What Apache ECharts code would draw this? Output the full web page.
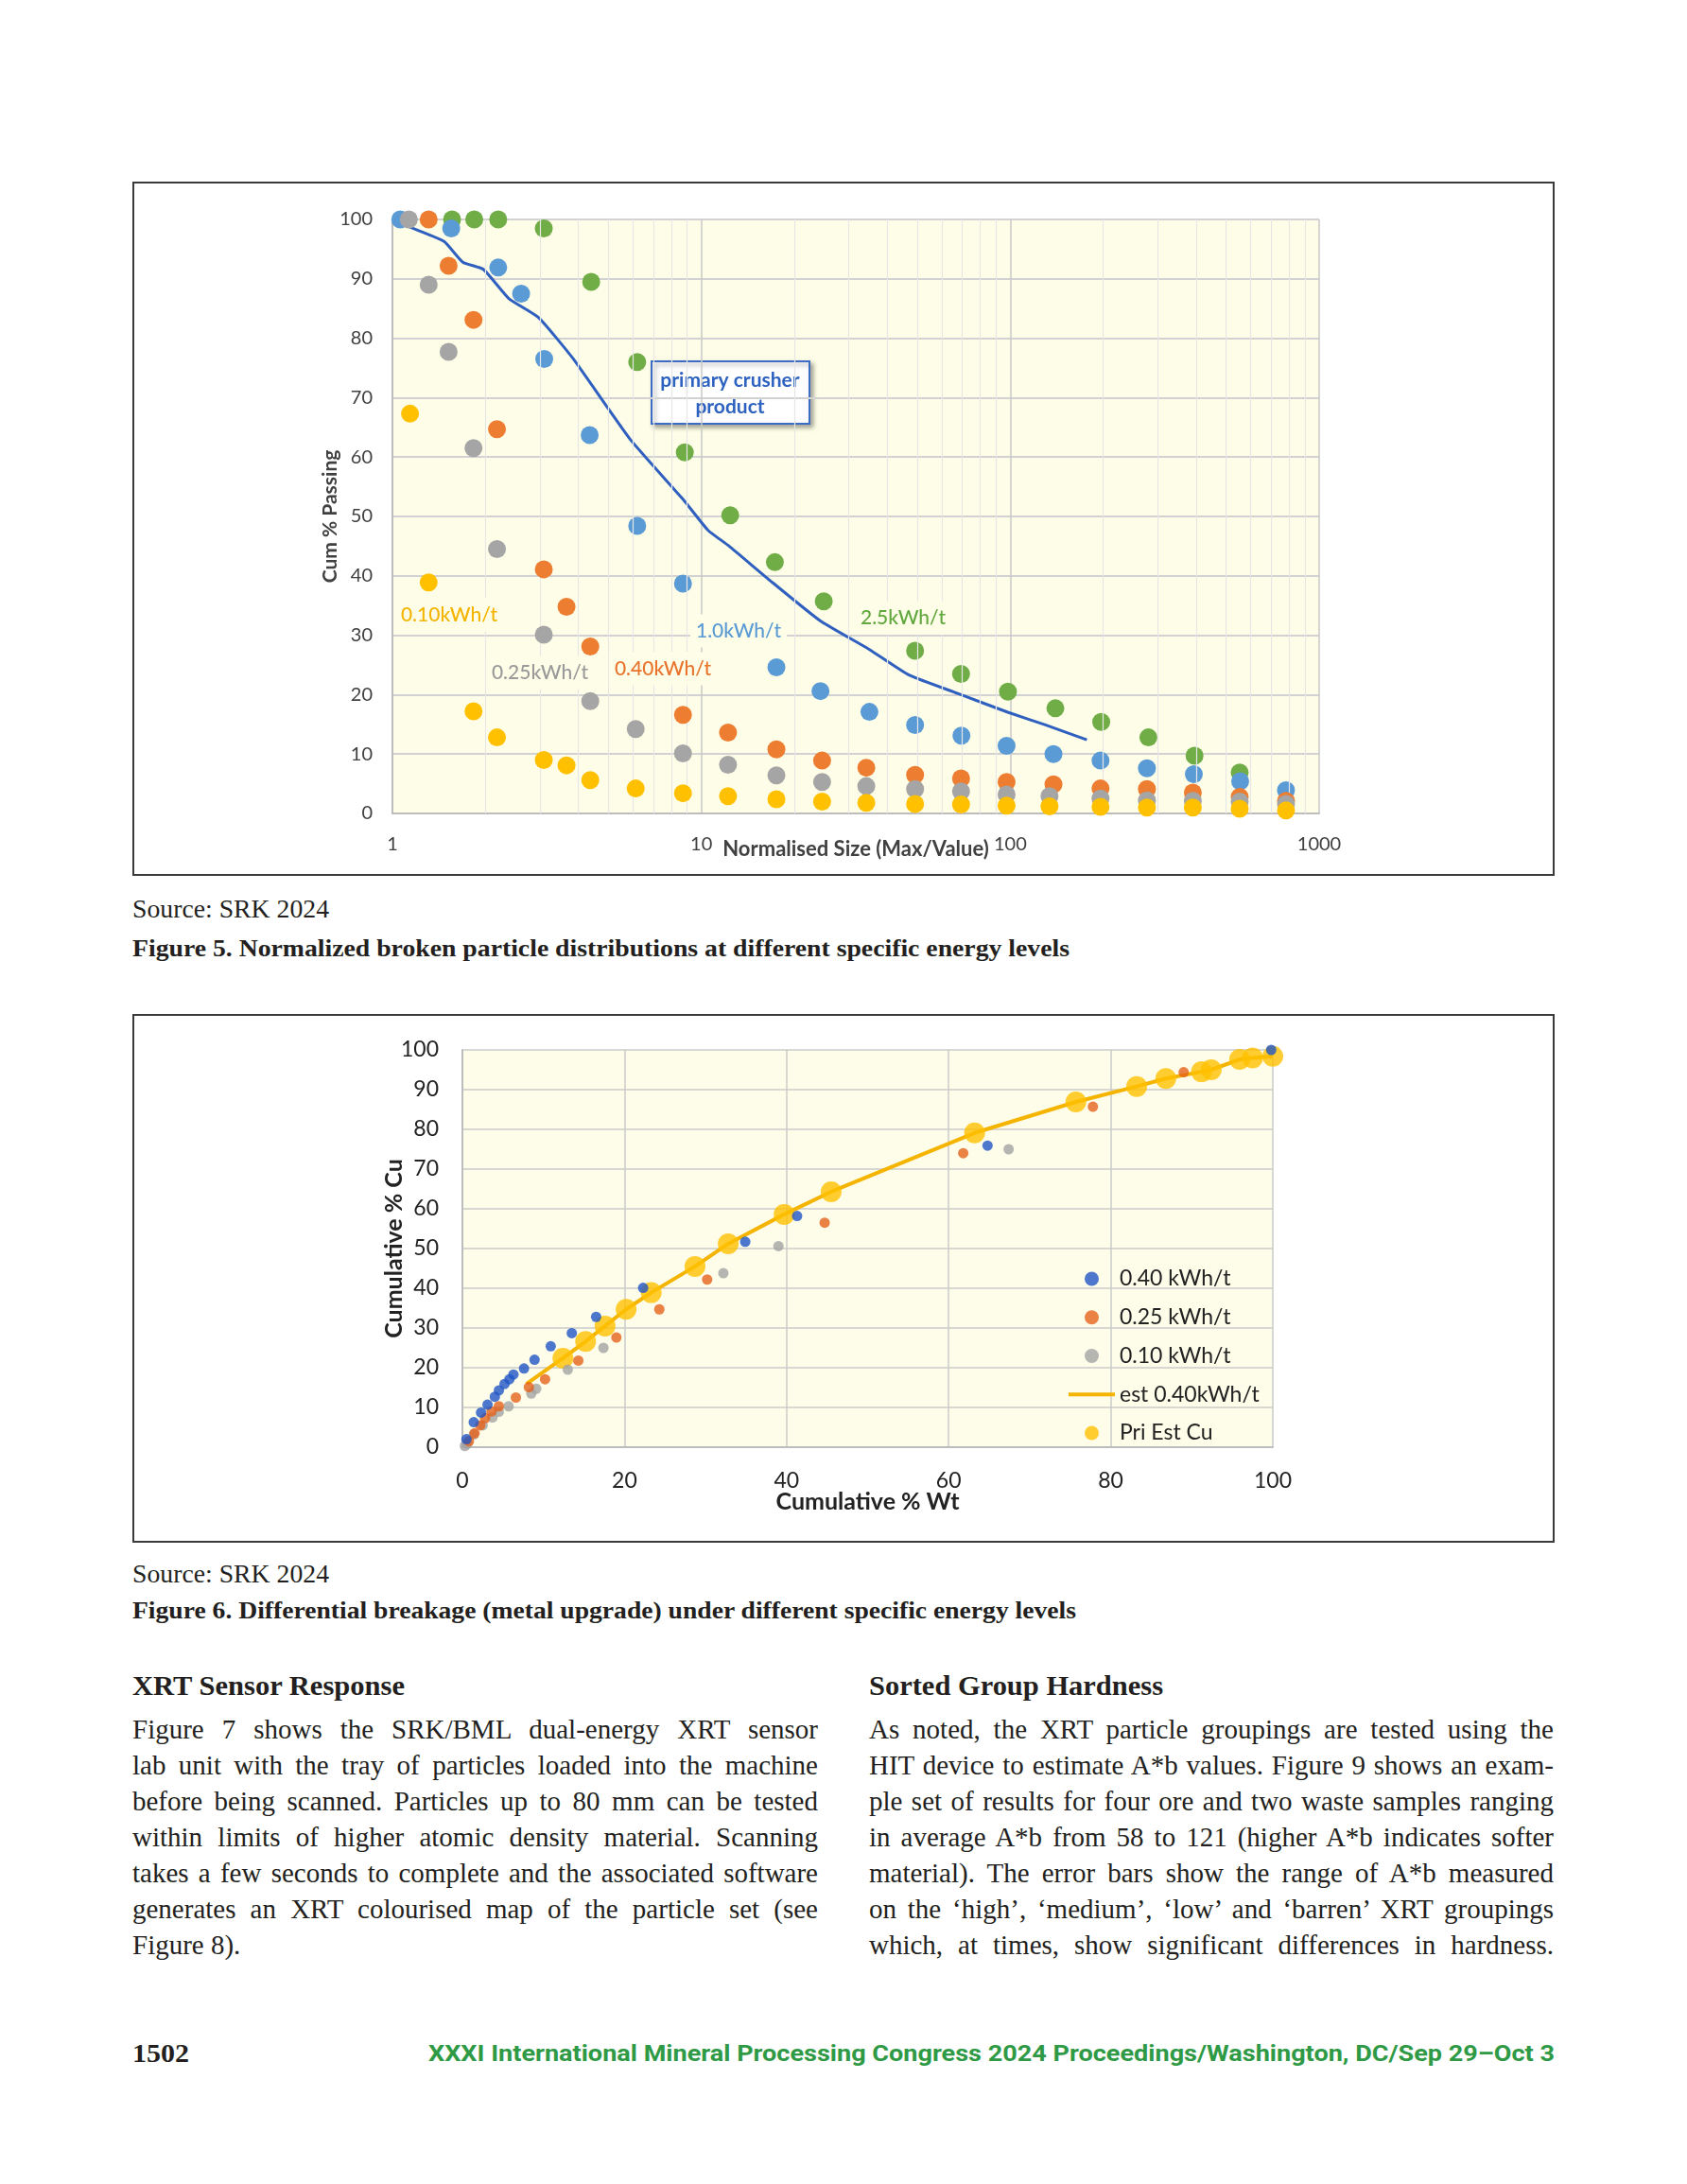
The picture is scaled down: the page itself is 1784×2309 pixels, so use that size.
<!DOCTYPE html>
<html><head><meta charset="utf-8">
<script src="https://cdn.jsdelivr.net/npm/echarts@6/dist/echarts.min.js"></script>
<style>
html,body{margin:0;padding:0;background:#fff;}
body{width:1784px;height:2309px;position:relative;overflow:hidden;}
.box{position:absolute;border:2px solid #3a3a3a;box-sizing:border-box;}
.chart{position:absolute;}
.t{position:absolute;white-space:nowrap;color:#231f20;transform-origin:0 50%;}
</style></head><body>
<div class="box" style="left:140px;top:192px;width:1504px;height:734px"></div>
<div id="c1" class="chart" style="left:140px;top:192px;width:1504px;height:734px"></div>
<div class="box" style="left:140px;top:1072px;width:1504px;height:559px"></div>
<div id="c2" class="chart" style="left:140px;top:1072px;width:1504px;height:559px"></div>
<script>
// ---------- Figure 5 data ----------
const xTicks1 = [1, 10, 100, 1000];
const minorTicks1 = [2,3,4,5,6,7,8,9,20,30,40,50,60,70,80,90,200,300,400,500,600,700,800,900];
const size010 = [1.14,1.31,1.83,2.18,3.09,3.66,4.37,6.13,8.72,12.2,17.5,24.6,34.2,49.2,69.3,97.3,134,196,277,390,553,781];
const pass010 = [67.3,38.9,17.2,12.8,9.0,8.1,5.6,4.2,3.4,2.9,2.4,2.0,1.8,1.6,1.5,1.3,1.2,1.1,1.0,1.0,0.8,0.5];
const size025 = [1.13,1.31,1.52,1.83,2.18,3.09,4.37,6.13,8.72,12.2,17.5,24.6,34.2,49.2,69.3,97.3,134,196,277,390,553,781];
const pass025 = [100,89.0,77.7,61.5,44.5,30.1,18.9,14.2,10.1,8.2,6.4,5.3,4.6,4.1,3.7,3.2,2.9,2.5,2.2,2.1,2.0,1.6];
const size040 = [1.31,1.52,1.83,2.18,3.09,3.66,4.37,8.72,12.2,17.5,24.6,34.2,49.2,69.3,97.3,138,196,277,390,553,781];
const pass040 = [100,92.2,83.1,64.7,41.1,34.8,28.1,16.6,13.6,10.8,8.9,7.7,6.5,5.9,5.3,4.9,4.2,4.1,3.5,2.8,2.1];
const size10 = [1.06,1.55,2.2,2.61,3.1,4.35,6.2,8.72,17.5,24.3,35.0,49.2,69.5,97.3,138,196,277,393,555,781];
const pass10 = [100,98.5,91.9,87.5,76.5,63.7,48.4,38.7,24.6,20.6,17.1,14.9,13.1,11.4,10.0,8.9,7.6,6.6,5.4,3.9];
const size25 = [1.56,1.84,2.2,3.09,4.4,6.2,8.84,12.4,17.3,24.9,49.2,69.3,98.3,140,197,280,395,553];
const pass25 = [100,100,100,98.5,89.5,76.0,60.8,50.2,42.3,35.7,27.4,23.5,20.5,17.7,15.4,12.8,9.7,6.9];
const sizePrimary = [1.0,1.08,1.18,1.47,1.69,1.97,2.38,2.97,3.84,5.88,8.72,10.5,12.3,16.7,24.3,35,47,67.6,98.7,130,177];
const passPrimary = [100,99.2,98.4,96.3,92.8,91.6,86.7,83.5,76.6,63.0,52.9,47.7,45.0,39.2,32.4,27.6,23.3,20.2,17.0,14.9,12.4];

// ---------- Figure 6 data ----------
const wt040 = [0.5,1.4,2.3,3.1,4.0,4.5,5.2,5.8,6.3,7.6,8.9,10.9,13.5,16.5,22.3,34.9,41.3,64.8,99.8];
const cu040 = [2.0,6.3,8.7,10.7,12.7,14.3,15.9,17.1,18.3,19.8,22.0,25.4,28.7,32.8,40.1,51.7,58.2,75.9,100];
const wt025 = [0.8,1.5,2.2,2.8,3.6,4.5,6.6,8.2,10.2,14.3,19.0,24.3,30.2,44.7,61.8,77.8,89.0];
const cu025 = [1.5,3.5,5.5,7.3,9.0,10.3,12.5,15.1,17.1,21.8,27.6,34.7,42.2,56.5,74.0,85.7,94.4];
const wt010 = [0.3,0.6,1.4,2.5,3.7,4.5,5.7,8.5,9.1,13.0,17.4,32.2,39.0,67.4];
const cu010 = [0.3,0.8,3.2,5.5,7.5,8.9,10.3,13.5,14.7,19.5,25.0,43.8,50.6,75.0];
const wtPri = [12.4,15.2,17.6,20.2,23.3,28.7,32.8,39.7,45.5,63.2,75.7,83.2,86.8,91.2,92.4,95.9,97.5,100];
const cuPri = [22.4,26.6,30.5,34.7,38.9,45.5,51.2,58.6,64.3,79.1,86.9,90.8,92.8,94.5,95.0,97.6,98.0,98.4];
const wtEst = [7.9,12.4,15.2,17.6,20.2,23.3,28.7,32.8,39.7,45.5,63.2,75.7,83.2,86.8,91.2,92.4,95.9,97.5,100];
const cuEst = [15.9,22.4,26.6,30.5,34.7,38.9,45.5,51.2,58.6,64.3,79.1,86.9,90.8,92.8,94.5,95.0,97.6,98.0,98.4];
const legendNames2 = ['0.40 kWh/t','0.25 kWh/t','0.10 kWh/t','est 0.40kWh/t','Pri Est Cu'];

const zip = (a,b) => a.map((v,i)=>[v,b[i]]);
const SANS = 'Lato, "Open Sans", sans-serif';
const BG = '#fefee8';

// ---------- Chart 1 ----------
const c1 = echarts.init(document.getElementById('c1'));
function scat(name, xs, ys, color, z){
  return {name, type:'scatter', data:zip(xs,ys), symbol:'circle', symbolSize:19, z,
    itemStyle:{color, opacity:1}, emphasis:{disabled:true}};
}
function lbl(text, x, y, color){
  return {type:'text', x, y, z:50, style:{text, fill:color, font:'500 21px '+SANS,
    align:'center', verticalAlign:'middle', backgroundColor:BG, padding:[7,6]}};
}
c1.setOption({
  animation:false,
  grid:{left:275, right:249, top:40, bottom:66, show:true, backgroundColor:BG, borderWidth:0},
  xAxis:{type:'log', logBase:10, min:xTicks1[0], max:xTicks1[xTicks1.length-1],
    axisLine:{show:true, lineStyle:{color:'#bdbdbd', width:2}}, axisTick:{show:false},
    axisLabel:{fontSize:20, color:'#404040', margin:23, fontFamily:SANS, formatter:v=>String(Math.round(v))},
    splitLine:{show:true, lineStyle:{color:'#c9c9c9', width:1.5}},
    name:'Normalised Size (Max/Value)', nameLocation:'middle', nameGap:27, nameMoveOverlap:false,
    nameTextStyle:{fontSize:22, fontWeight:'bold', color:'#404040', fontFamily:SANS}},
  yAxis:{type:'value', min:0, max:100, interval:10,
    axisLine:{show:true, lineStyle:{color:'#bdbdbd', width:2}}, axisTick:{show:false},
    axisLabel:{fontSize:20, color:'#404040', margin:21, fontFamily:SANS},
    splitLine:{lineStyle:{color:'#d2d2d2', width:2}},
    name:'Cum % Passing', nameLocation:'middle', nameGap:55, nameMoveOverlap:false,
    nameTextStyle:{fontSize:21, fontWeight:'bold', color:'#404040', fontFamily:SANS}},
  series:[
    {type:'line', data:[], z:1, silent:true,
      markLine:{silent:true, symbol:'none', label:{show:false}, animation:false,
        lineStyle:{color:'#e6e6e6', width:1.2, type:'solid'},
        data:minorTicks1.map(v=>({xAxis:v}))}},
    {name:'primary crusher product', type:'line', data:zip(sizePrimary,passPrimary), z:2,
      showSymbol:false, symbol:'none', smooth:0.15, lineStyle:{color:'#2f5fbf', width:3}},
    scat('2.5kWh/t', size25, pass25, '#70ad47', 3),
    scat('1.0kWh/t', size10, pass10, '#5b9bd5', 4),
    scat('0.40kWh/t', size040, pass040, '#ed7d31', 5),
    scat('0.25kWh/t', size025, pass025, '#a5a5a5', 6),
    scat('0.10kWh/t', size010, pass010, '#ffc000', 7)
  ],
  graphic:[
    lbl('0.10kWh/t', 335, 458, '#f4b400'),
    lbl('0.25kWh/t', 431, 519, '#9a9a9a'),
    lbl('0.40kWh/t', 561, 515, '#e8732c'),
    lbl('1.0kWh/t', 641, 475, '#5b9bd5'),
    lbl('2.5kWh/t', 815, 461, '#62a83e'),
    {type:'group', z:60, children:[
      {type:'rect', shape:{x:549, y:190, width:167, height:66},
        style:{fill:'#ffffff', stroke:'#3d6cc6', lineWidth:2, shadowBlur:5,
          shadowColor:'rgba(0,0,0,0.35)', shadowOffsetX:3, shadowOffsetY:3}},
      {type:'text', x:632, y:210, style:{text:'primary crusher', fill:'#2e62c0',
        font:'700 21px '+SANS, align:'center', verticalAlign:'middle'}},
      {type:'text', x:632, y:238, style:{text:'product', fill:'#2e62c0',
        font:'700 21px '+SANS, align:'center', verticalAlign:'middle'}}
    ]}
  ]
});

// ---------- Chart 2 ----------
const c2 = echarts.init(document.getElementById('c2'));
c2.setOption({
  animation:false,
  grid:{left:349, right:298, top:38, bottom:101, show:true, backgroundColor:'#fdfde9', borderWidth:0},
  legend:{orient:'vertical', left:985, top:263, itemWidth:49, itemHeight:15, itemGap:16.75,
    data:[
      {name:legendNames2[0]}, {name:legendNames2[1]}, {name:legendNames2[2]},
      {name:legendNames2[3], icon:'path://M0 0H49V4H0Z'}, {name:legendNames2[4]}],
    selectedMode:false,
    textStyle:{fontSize:23, color:'#222', fontFamily:SANS, lineHeight:24}},
  xAxis:{type:'value', min:0, max:100, interval:20,
    axisLine:{show:true, lineStyle:{color:'#bdbdbd', width:2}}, axisTick:{show:false},
    axisLabel:{fontSize:23, color:'#222', margin:24, fontFamily:SANS},
    splitLine:{lineStyle:{color:'#cbcbcb', width:1.5}},
    name:'Cumulative % Wt', nameLocation:'middle', nameGap:45, nameMoveOverlap:false,
    nameTextStyle:{fontSize:25, fontWeight:'bold', color:'#222', fontFamily:SANS}},
  yAxis:{type:'value', min:0, max:100, interval:10,
    axisLine:{show:true, lineStyle:{color:'#bdbdbd', width:2}}, axisTick:{show:false},
    axisLabel:{fontSize:23, color:'#222', margin:25, fontFamily:SANS},
    splitLine:{lineStyle:{color:'#cbcbcb', width:1.5}},
    name:'Cumulative % Cu', nameLocation:'middle', nameGap:60, nameMoveOverlap:false,
    nameTextStyle:{fontSize:25, fontWeight:'bold', color:'#222', fontFamily:SANS}},
  series:[
    {name:'est 0.40kWh/t', type:'line', data:zip(wtEst,cuEst), z:2, symbol:'none',
      lineStyle:{color:'#f4b400', width:4}, itemStyle:{color:'#f4b400'}},
    {name:'Pri Est Cu', type:'scatter', data:zip(wtPri,cuPri), z:3, symbolSize:22,
      itemStyle:{color:'#ffc000'}},
    {name:'0.10 kWh/t', type:'scatter', data:zip(wt010,cu010), z:4, symbolSize:11,
      itemStyle:{color:'#a3a3a3'}},
    {name:'0.25 kWh/t', type:'scatter', data:zip(wt025,cu025), z:5, symbolSize:11,
      itemStyle:{color:'#e5621c'}},
    {name:'0.40 kWh/t', type:'scatter', data:zip(wt040,cu040), z:6, symbolSize:11,
      itemStyle:{color:'#1f55c6'}}
  ]
});

// ---------- Page text ----------
const SERIF = '"Liberation Serif", "DejaVu Serif", serif';
const leftBody = [
 'Figure 7 shows the SRK/BML dual-energy XRT sensor',
 'lab unit with the tray of particles loaded into the machine',
 'before being scanned. Particles up to 80 mm can be tested',
 'within limits of higher atomic density material. Scanning',
 'takes a few seconds to complete and the associated software',
 'generates an XRT colourised map of the particle set (see',
 'Figure 8).'];
const rightBody = [
 'As noted, the XRT particle groupings are tested using the',
 'HIT device to estimate A*b values. Figure 9 shows an exam-',
 'ple set of results for four ore and two waste samples ranging',
 'in average A*b from 58 to 121 (higher A*b indicates softer',
 'material). The error bars show the range of A*b measured',
 'on the \u2018high\u2019, \u2018medium\u2019, \u2018low\u2019 and \u2018barren\u2019 XRT groupings',
 'which, at times, show significant differences in hardness.'];

function place(t){
  const el=document.createElement('div'); el.className='t';
  el.textContent=t.text;
  el.style.fontFamily = t.family || SERIF;
  el.style.fontSize = t.size+'px';
  el.style.fontWeight = t.weight||400;
  el.style.lineHeight = Math.round(t.size*1.3)+'px';
  el.style.top = (t.y - t.size*0.65)+'px';
  el.style.left = t.x+'px';
  if(t.color) el.style.color=t.color;
  document.body.appendChild(el);
  const w = el.getBoundingClientRect().width;
  if(t.w){
    const n=(t.text.match(/ /g)||[]).length;
    if(t.justify && w < t.w && n){ el.style.wordSpacing = ((t.w-w)/n)+'px'; }
    else el.style.transform = 'scaleX('+(t.w/w)+')';
  }
}
const texts = [
  {text:'Source: SRK 2024', x:140, y:962, size:27, w:208},
  {text:'Figure 5. Normalized broken particle distributions at different specific energy levels', x:140, y:1002, size:25, weight:700, w:991},
  {text:'Source: SRK 2024', x:140, y:1665, size:27, w:208},
  {text:'Figure 6. Differential breakage (metal upgrade) under different specific energy levels', x:140, y:1702, size:25, weight:700, w:998},
  {text:'XRT Sensor Response', x:140, y:1782, size:29, weight:700, w:288},
  {text:'Sorted Group Hardness', x:919, y:1782, size:29, weight:700, w:311},
  {text:'1502', x:140, y:2172, size:27, weight:700, w:60},
  {text:'XXXI International Mineral Processing Congress 2024 Proceedings/Washington, DC/Sep 29\u2013Oct 3', x:453, y:2172, size:24, weight:700, w:1191, family:'Roboto, "Open Sans", sans-serif', color:'#2f9a45'}
];
leftBody.forEach((s,i)=>texts.push({text:s, x:140, y:1828+i*38, size:29, w: i<6?725:null, justify:true}));
rightBody.forEach((s,i)=>texts.push({text:s, x:919, y:1828+i*38, size:29, w:724, justify:true}));
texts.forEach(place);
</script>
</body></html>
